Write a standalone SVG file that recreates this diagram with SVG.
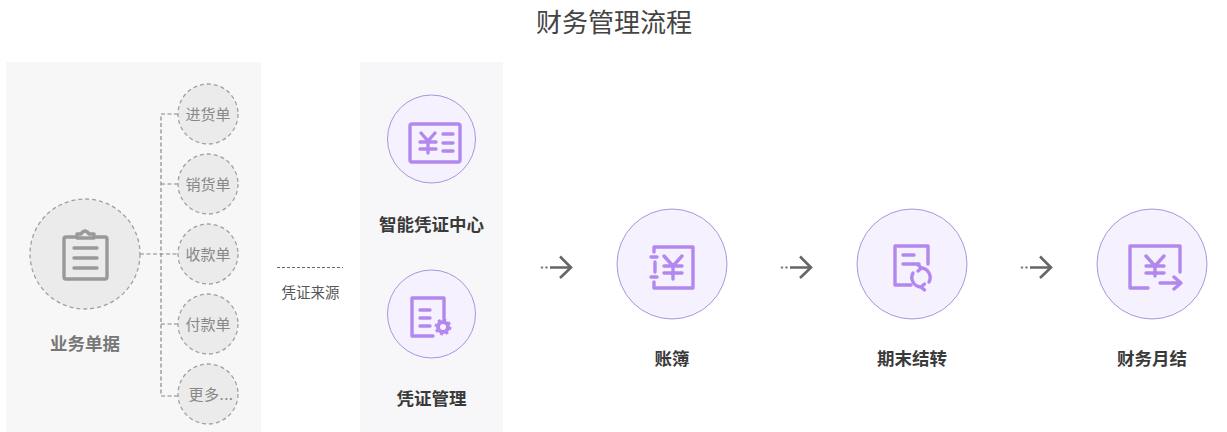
<svg xmlns="http://www.w3.org/2000/svg" width="1227" height="432" viewBox="0 0 1227 432">
<defs>
<style>
text{font-family:"Noto Sans CJK SC","Noto Sans",sans-serif;text-anchor:middle}
.title{font-size:26px;fill:#444}
.lb{font-size:17.5px;font-weight:700;fill:#3a3a3a}
.lbg{font-size:17.5px;font-weight:700;fill:#777}
.sm{font-size:15px;fill:#888}
.src{font-size:14.5px;fill:#555}
.panel{fill:#f7f7f7}
.pc{fill:#f6f1ff;stroke:#a995dc;stroke-width:1}
.gc{fill:#ebebeb;stroke:#a0a0a0;stroke-width:1.3;stroke-dasharray:4 3}
.ic{fill:none;stroke:#b288ee;stroke-width:3.4;stroke-linecap:round;stroke-linejoin:round}
.ig{fill:none;stroke:#999;stroke-width:3.4;stroke-linecap:round;stroke-linejoin:round}
.dash{fill:none;stroke:#888;stroke-width:1.2;stroke-dasharray:4 2.5}
.ah{fill:none;stroke:#666;stroke-width:2.6}
.ad{fill:#888}
</style>
</defs>
<rect class="panel" x="6" y="62" width="255" height="370"/>
<rect x="360" y="62" width="143" height="370" fill="#f7f6f8"/>
<text class="title" x="614" y="32">财务管理流程</text>
<g id="connectors">
<path class="dash" d="M140 254H178M178 114H161V396Q161 396 164 396H178M161 184H178M161 324H178"/>
<path d="M277 267.500H343" fill="none" stroke="#666" stroke-width="1" stroke-dasharray="3 2"/>
<g id="arrow1"><circle class="ad" cx="542" cy="267.500" r="1.300"/><circle class="ad" cx="546.500" cy="267.500" r="1.300"/><path class="ah" d="M550 267.500H570M560 256.500L571 267.500L560 278"/></g>
<g id="arrow2"><circle class="ad" cx="782" cy="267.500" r="1.300"/><circle class="ad" cx="786.500" cy="267.500" r="1.300"/><path class="ah" d="M790 267.500H810M800 256.500L811 267.500L800 278"/></g>
<g id="arrow3"><circle class="ad" cx="1022" cy="267.500" r="1.300"/><circle class="ad" cx="1026.500" cy="267.500" r="1.300"/><path class="ah" d="M1030 267.500H1050M1040 256.500L1051 267.500L1040 278"/></g>
</g>
<g id="n-docs">
<circle class="gc" cx="85" cy="254" r="55"/>
<path class="ig" d="M76 237H66Q64 237 64 239V277Q64 279 66 279H105Q107 279 107 277V239Q107 237 105 237H95" stroke-width="3.600"/>
<path class="ig" d="M77 238V234H81Q85 228 89 234H94V238Z" stroke-width="2.600"/>
<path class="ig" d="M74 248H97M74 258H97M74 268H97" stroke-width="3"/>
<text class="lbg" x="85" y="350">业务单据</text>
</g>
<g id="n-purchase"><circle class="gc" cx="208" cy="114" r="30"/><text class="sm" x="208" y="119.500">进货单</text></g>
<g id="n-sales"><circle class="gc" cx="208" cy="184" r="30"/><text class="sm" x="208" y="189.500">销货单</text></g>
<g id="n-receipt"><circle class="gc" cx="208" cy="254" r="30"/><text class="sm" x="208" y="259.500">收款单</text></g>
<g id="n-payment"><circle class="gc" cx="208" cy="324" r="30"/><text class="sm" x="208" y="329.500">付款单</text></g>
<g id="n-more"><circle class="gc" cx="208" cy="394" r="30"/><text class="sm" x="211" y="399.500" letter-spacing="0.500">更多...</text></g>
<g id="n-source"><text class="src" x="310.500" y="298">凭证来源</text></g>
<g id="n-center">
<circle class="pc" cx="431.500" cy="139" r="44"/>
<rect class="ic" x="410" y="124" width="50" height="38" rx="2" stroke-width="4"/>
<path class="ic" d="M421 133L428 141L435 133M420 142H436M420 149H436M428 141V153M443 134H453M443 143H453M443 151H453" stroke-width="3"/>
<text class="lb" x="431.500" y="231">智能凭证中心</text>
</g>
<g id="n-voucher">
<circle class="pc" cx="431.500" cy="314" r="44"/>
<path class="ic" d="M433 336H412V298H444V320M420 310H430M420 318H430M420 326H430" stroke-width="2.800"/>
<circle cx="443" cy="327" r="5" fill="none" stroke="#b288ee" stroke-width="4"/>
<circle cx="443" cy="327" r="7.500" fill="none" stroke="#b288ee" stroke-width="2" stroke-dasharray="3 2.900"/>
<text class="lb" x="431.500" y="405">凭证管理</text>
</g>
<g id="n-ledger">
<circle class="pc" cx="672" cy="264" r="55"/>
<path class="ic" d="M654 252V247H693V288H654V282M655 262V272M651 257H657M651 277H657M664 256L673 266L682 256M664 266H682M664 273H682M673 266V279"/>
<text class="lb" x="672" y="365">账簿</text>
</g>
<g id="n-closing">
<circle class="pc" cx="912" cy="264" r="55"/>
<path class="ic" d="M911 285H895V246H928V264M903 255H914M903 264H919"/>
<path class="ic" d="M921 268A9.500 9.500 0 0 1 929 282M921 287A9.500 9.500 0 0 1 913 273" stroke-width="2.400"/>
<path class="ic" d="M918 265L921.500 268L918 271M924.500 284L921 287L924.500 290" stroke-width="1.800"/>
<text class="lb" x="912" y="365">期末结转</text>
</g>
<g id="n-monthly">
<circle class="pc" cx="1152" cy="264" r="55"/>
<path class="ic" d="M1148 288H1130V246H1180V272M1160 283H1180M1174 277L1181 283L1174 289M1146 256L1155 266L1164 256M1146 266H1164M1146 273H1164M1155 266V276"/>
<text class="lb" x="1152" y="365">财务月结</text>
</g>
</svg>
